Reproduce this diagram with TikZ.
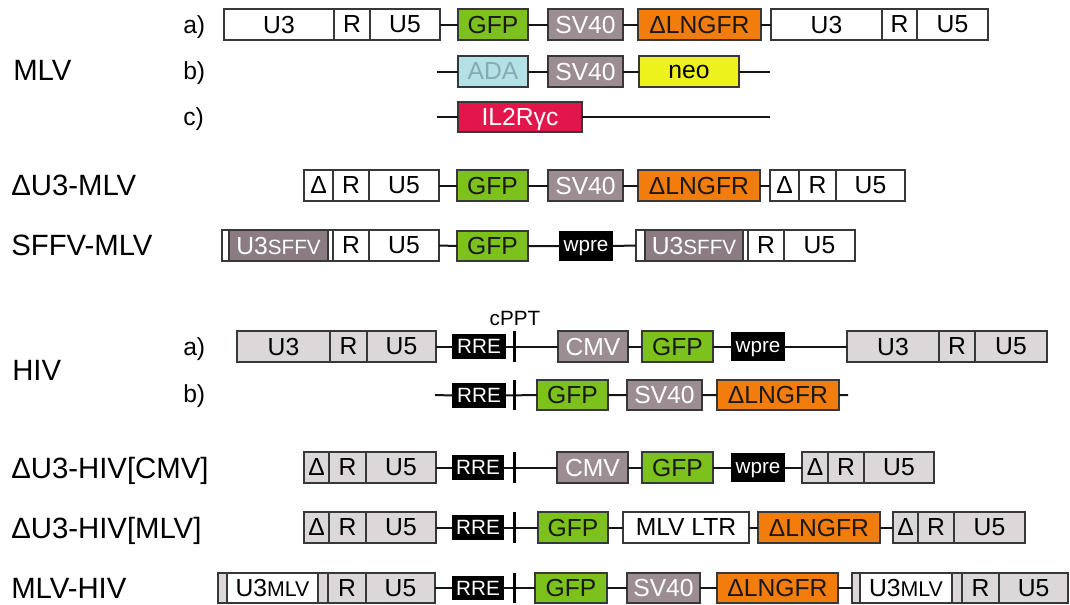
\documentclass[tikz,border=0pt]{standalone}
\usepackage{fontspec}
\setmainfont{Liberation Sans}
\newcommand\fsz[1]{\fontsize{#1}{#1}\selectfont}
% box: style, name, x1, y1, x2, y2, text  (pixel coordinates)
\newcommand\bx[7]{\node[#1, minimum width={(#5-#3)*0.75pt}, minimum height={(#6-#4)*0.75pt}] (#2) at ({(#3+#5)/2},{(#4+#6)/2}) {#7};}
\definecolor{gfpc}{HTML}{7CC11C}
\definecolor{svc}{HTML}{9C8D93}
\definecolor{sffvc}{HTML}{8A7C82}
\definecolor{ngfrc}{HTML}{F27C0C}
\definecolor{adac}{HTML}{B3E1E6}
\definecolor{adat}{HTML}{86AAB3}
\definecolor{neoc}{HTML}{EEF21C}
\definecolor{ilc}{HTML}{E2164A}
\definecolor{hivc}{HTML}{DCD8D9}
\definecolor{edgec}{HTML}{383838}
\definecolor{linec}{HTML}{151515}
\tikzset{
 x=0.75pt, y=-0.75pt,
 blk/.style={draw=edgec, line width=0.9pt, inner sep=0pt, outer sep=0pt, text depth=0pt, font=\fsz{18.5}},
 ltr/.style={blk, fill=white},
 hltr/.style={blk, fill=hivc},
 gfpbox/.style={blk, fill=gfpc, text=black!90},
 svbox/.style={blk, fill=svc, text=white},
 sffvbox/.style={blk, fill=sffvc, text=white},
 ngfrbox/.style={blk, fill=ngfrc, text=black!90},
 adabox/.style={blk, fill=adac, text=adat},
 neobox/.style={blk, fill=neoc, text=black},
 ilbox/.style={blk, fill=ilc, text=white},
 blackbox/.style={blk, draw=black, fill=black, text=white, font=\fsz{15.5}},
 cppt/.style={fill=black, draw=none, inner sep=0pt, outer sep=0pt},
 conn/.style={draw=linec, line width=1.5pt},
 lbl/.style={inner sep=0pt, text depth=0pt, anchor=west, font=\fsz{22}},
 sublbl/.style={inner sep=0pt, text depth=0pt, anchor=west, font=\fsz{18.5}},
}
\begin{document}
\begin{tikzpicture}
\useasboundingbox[fill=white] (0,0) rectangle (1070,604);
% ---------- left labels ----------
\node[lbl] (lmlv) at (13,70) {MLV};
\node[sublbl] (la1) at (183,24.5) {a)};
\node[sublbl] (lb1) at (183,71) {b)};
\node[sublbl] (lc1) at (183,117) {c)};
\node[lbl] (ldmlv) at (11,185.5) {ΔU3-MLV};
\node[lbl] (lsffv) at (11,245.5) {SFFV-MLV};
\node[lbl] (lhiv) at (12,370) {HIV};
\node[sublbl] (la2) at (183,347) {a)};
\node[sublbl] (lb2) at (183,394) {b)};
\node[lbl] (lcmv) at (11,467.5) {ΔU3-HIV[CMV]};
\node[lbl] (lmlvh) at (11,527.5) {ΔU3-HIV[MLV]};
\node[lbl] (lmh) at (11,588) {MLV-HIV};
\node[inner sep=0pt, text depth=0pt, font=\fsz{15.5}] (lcppt) at (515,318) {cPPT};
% ---------- MLV a ----------
\bx{ltr}{a3}{224}{9}{334}{40}{U3}
\bx{ltr}{ar}{334}{9}{370}{40}{R}
\bx{ltr}{a5}{370}{9}{440}{40}{U5}
\bx{gfpbox}{agfp}{458}{9}{528}{40}{GFP}
\bx{svbox}{asv}{548}{9}{623}{40}{SV40}
\bx{ngfrbox}{angfr}{638}{9}{761}{40}{ΔLNGFR}
\bx{ltr}{ab3}{771}{9}{882}{40}{U3}
\bx{ltr}{abr}{882}{9}{917}{40}{R}
\bx{ltr}{ab5}{917}{9}{988}{40}{U5}
\draw[conn] (a5.east) -- (agfp.west) (agfp.east) -- (asv.west)
  (asv.east) -- (angfr.west) (angfr.east) -- (ab3.west);
% ---------- MLV b ----------
\coordinate (bs) at (437,71.5);
\coordinate (be) at (770,71.5);
\bx{adabox}{bada}{458}{56}{528}{87}{ADA}
\bx{svbox}{bsv}{548}{56}{623}{87}{SV40}
\bx{neobox}{bneo}{639}{56}{739}{87}{neo}
\draw[conn] (bs) -- (bada.west) (bada.east) -- (bsv.west)
  (bsv.east) -- (bneo.west) (bneo.east) -- (be);
% ---------- MLV c ----------
\coordinate (cs) at (437,117);
\coordinate (ce) at (770,117);
\bx{ilbox}{cil}{458}{102}{582}{132}{IL2Rγc}
\draw[conn] (cs) -- (cil.west) (cil.east) -- (ce);
% ---------- dU3-MLV ----------
\bx{ltr}{d1}{304}{170}{333}{201}{Δ}
\bx{ltr}{dr}{333}{170}{369}{201}{R}
\bx{ltr}{d5}{369}{170}{439}{201}{U5}
\bx{gfpbox}{dgfp}{457}{170}{528}{201}{GFP}
\bx{svbox}{dsv}{548}{170}{623}{201}{SV40}
\bx{ngfrbox}{dngfr}{638}{170}{760}{201}{ΔLNGFR}
\bx{ltr}{dd2}{770}{170}{799}{201}{Δ}
\bx{ltr}{dr2}{799}{170}{836}{201}{R}
\bx{ltr}{d52}{836}{170}{905}{201}{U5}
\draw[conn] (d5.east) -- (dgfp.west) (dgfp.east) -- (dsv.west)
  (dsv.east) -- (dngfr.west) (dngfr.east) -- (dd2.west);
% ---------- SFFV-MLV ----------
\bx{ltr}{sw}{222}{230}{333}{261}{}
\bx{sffvbox}{su3}{229}{230}{328}{261}{U3{\fsz{15.5}SFFV}}
\bx{ltr}{sr}{333}{230}{369}{261}{R}
\bx{ltr}{s5}{369}{230}{439}{261}{U5}
\bx{gfpbox}{sgfp}{457}{231}{528}{261}{GFP}
\bx{blackbox}{swp}{560}{232}{612}{260}{wpre}
\bx{ltr}{sw2}{636}{230}{748}{261}{}
\bx{sffvbox}{su32}{645}{230}{743}{261}{U3{\fsz{15.5}SFFV}}
\bx{ltr}{sr2}{748}{230}{784}{261}{R}
\bx{ltr}{s52}{784}{230}{855}{261}{U5}
\draw[conn] (s5.east) -- (sgfp.west) (sgfp.east) -- (swp.west)
  (swp.east) -- (sw2.west);
% ---------- HIV a ----------
\bx{hltr}{ha3}{237}{331}{330}{362}{U3}
\bx{hltr}{har}{330}{331}{367}{362}{R}
\bx{hltr}{ha5}{367}{331}{436}{362}{U5}
\bx{blackbox}{hrre}{453}{335}{505}{358}{RRE}
\bx{svbox}{hcmv}{558}{331}{628}{362}{CMV}
\bx{gfpbox}{hgfp}{642}{331}{713}{362}{GFP}
\bx{blackbox}{hwp}{732}{333}{784}{360}{wpre}
\bx{hltr}{hb3}{847}{331}{939}{362}{U3}
\bx{hltr}{hbr}{939}{331}{975}{362}{R}
\bx{hltr}{hb5}{975}{331}{1047}{362}{U5}
\draw[conn] (ha5.east) -- (hrre.west) (hrre.east) -- (hcmv.west)
  (hcmv.east) -- (hgfp.west) (hgfp.east) -- (hwp.west) (hwp.east) -- (hb3.west);
\bx{cppt}{hbar}{512.5}{331}{515.5}{362}{}
% ---------- HIV b ----------
\coordinate (hbs) at (435,395);
\coordinate (hbe) at (848,395);
\bx{blackbox}{hbrre}{453}{384}{505}{407}{RRE}
\bx{gfpbox}{hbgfp}{537}{380}{608}{410}{GFP}
\bx{svbox}{hbsv}{627}{380}{702}{410}{SV40}
\bx{ngfrbox}{hbngfr}{717}{380}{839}{410}{ΔLNGFR}
\draw[conn] (hbs) -- (hbrre.west) (hbrre.east) -- (hbgfp.west)
  (hbgfp.east) -- (hbsv.west) (hbsv.east) -- (hbngfr.west) (hbngfr.east) -- (hbe);
\bx{cppt}{hbbar}{512.5}{380}{515.5}{410}{}
% ---------- dU3-HIV[CMV] ----------
\bx{hltr}{x1}{304}{452}{329}{483}{Δ}
\bx{hltr}{xr}{329}{452}{366}{483}{R}
\bx{hltr}{x5}{366}{452}{436}{483}{U5}
\bx{blackbox}{xrre}{453}{456}{503}{479}{RRE}
\bx{svbox}{xcmv}{557}{452}{628}{483}{CMV}
\bx{gfpbox}{xgfp}{642}{452}{713}{483}{GFP}
\bx{blackbox}{xwp}{732}{454}{784}{481}{wpre}
\bx{hltr}{xd2}{802}{452}{828}{483}{Δ}
\bx{hltr}{xr2}{828}{452}{864}{483}{R}
\bx{hltr}{x52}{864}{452}{934}{483}{U5}
\draw[conn] (x5.east) -- (xrre.west) (xrre.east) -- (xcmv.west)
  (xcmv.east) -- (xgfp.west) (xgfp.east) -- (xwp.west) (xwp.east) -- (xd2.west);
\bx{cppt}{xbar}{512.5}{452}{515.5}{483}{}
% ---------- dU3-HIV[MLV] ----------
\bx{hltr}{m1}{304}{512}{329}{543}{Δ}
\bx{hltr}{mr}{329}{512}{366}{543}{R}
\bx{hltr}{m5}{366}{512}{436}{543}{U5}
\bx{blackbox}{mrre}{453}{516}{503}{539}{RRE}
\bx{gfpbox}{mgfp}{538}{512}{608}{543}{GFP}
\bx{ltr}{mltr}{623}{512}{749}{543}{MLV LTR}
\bx{ngfrbox}{mngfr}{758}{512}{880}{543}{ΔLNGFR}
\bx{hltr}{md2}{893}{512}{918}{543}{Δ}
\bx{hltr}{mr2}{918}{512}{954}{543}{R}
\bx{hltr}{m52}{954}{512}{1025}{543}{U5}
\draw[conn] (m5.east) -- (mrre.west) (mrre.east) -- (mgfp.west)
  (mgfp.east) -- (mltr.west) (mltr.east) -- (mngfr.west) (mngfr.east) -- (md2.west);
\bx{cppt}{mbar}{512.5}{512}{515.5}{543}{}
% ---------- MLV-HIV ----------
\bx{hltr}{vw}{218}{573}{328}{603}{}
\bx{ltr}{vu3}{227}{573}{318}{603}{U3{\fsz{16}MLV}}
\bx{hltr}{vr}{328}{573}{366}{603}{R}
\bx{hltr}{v5}{366}{573}{435}{603}{U5}
\bx{blackbox}{vrre}{453}{577}{503}{599}{RRE}
\bx{gfpbox}{vgfp}{535}{573}{607}{603}{GFP}
\bx{svbox}{vsv}{627}{573}{700}{603}{SV40}
\bx{ngfrbox}{vngfr}{717}{573}{838}{603}{ΔLNGFR}
\bx{hltr}{vw2}{852}{573}{962}{603}{}
\bx{ltr}{vu32}{860}{573}{952}{603}{U3{\fsz{16}MLV}}
\bx{hltr}{vr2}{962}{573}{999}{603}{R}
\bx{hltr}{v52}{999}{573}{1068}{603}{U5}
\draw[conn] (v5.east) -- (vrre.west) (vrre.east) -- (vgfp.west)
  (vgfp.east) -- (vsv.west) (vsv.east) -- (vngfr.west) (vngfr.east) -- (vw2.west);
\bx{cppt}{vbar}{512.5}{573}{515.5}{603}{}
\end{tikzpicture}
\end{document}
